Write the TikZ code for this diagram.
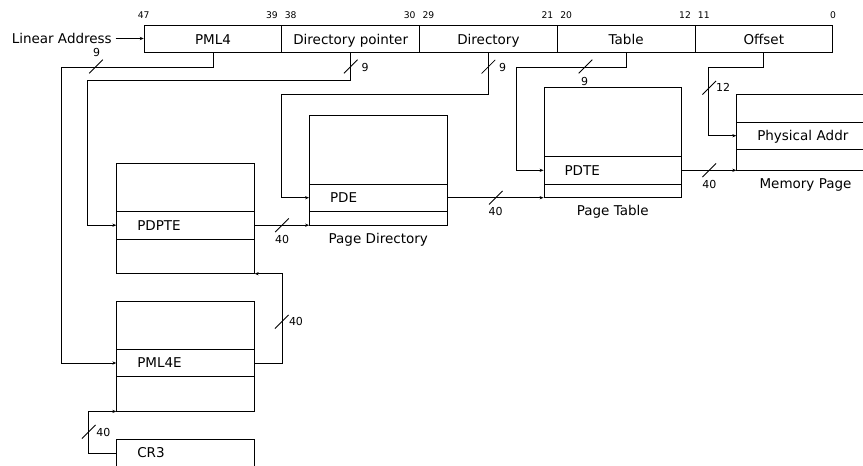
\documentclass[tikz,border=0pt]{standalone}
\usepackage{fontspec}
\setmainfont{DejaVu Sans}
\usetikzlibrary{arrows.meta,positioning}

\tikzset{
  field/.style={draw, minimum width=137.7pt, minimum height=27pt, inner sep=0pt,
    text height=11pt, text depth=0pt, font=\fontsize{13.5}{16}\selectfont},
  tbl/.style={draw, minimum width=137.5pt, minimum height=110pt, inner sep=0pt},
  entry/.style={draw, minimum width=137.5pt, minimum height=27.6pt, text width=96.5pt,
    inner xsep=20.5pt, inner ysep=0pt, align=left, text height=9.8pt, text depth=0pt,
    font=\fontsize{13.5}{16}\selectfont},
  txt/.style={font=\fontsize{13.5}{16}\selectfont},
  bit/.style={inner sep=0pt, font=\fontsize{9.2}{11}\selectfont},
  buslbl/.style={inner sep=0pt, font=\fontsize{11}{13}\selectfont},
  tip/.style={-{Stealth[length=4pt,width=3.2pt]}}
}

\begin{document}
\begin{tikzpicture}[x=1pt,y=-1pt,line width=0.8pt]
\clip (0,0) rectangle (863,466);

% linear address
\node[field] (pml4)   at (213.0,38.5) {PML4};
\node[field] (dirptr) at (350.7,38.5) {Directory pointer};
\node[field] (dir)    at (488.4,38.5) {Directory};
\node[field] (tab)    at (626.1,38.5) {Table};
\node[field] (off)    at (763.8,38.5) {Offset};
\node[txt, anchor=east] (lin) at (115.5,38.5) {Linear Address};
\draw[tip] (lin) -- (pml4);

% bit numbers
\node[bit,anchor=base]      at ([yshift=6.5pt]pml4.north west) {47};
\node[bit,anchor=base east] at ([xshift=-4pt,yshift=6.5pt]pml4.north east) {39};
\node[bit,anchor=base west] at ([xshift=3pt,yshift=6.5pt]dirptr.north west) {38};
\node[bit,anchor=base east] at ([xshift=-4pt,yshift=6.5pt]dirptr.north east) {30};
\node[bit,anchor=base west] at ([xshift=3pt,yshift=6.5pt]dir.north west) {29};
\node[bit,anchor=base east] at ([xshift=-4pt,yshift=6.5pt]dir.north east) {21};
\node[bit,anchor=base west] at ([xshift=3pt,yshift=6.5pt]tab.north west) {20};
\node[bit,anchor=base east] at ([xshift=-4pt,yshift=6.5pt]tab.north east) {12};
\node[bit,anchor=base west] at ([xshift=3pt,yshift=6.5pt]off.north west) {11};
\node[bit,anchor=base]      at ([yshift=6.5pt]off.north east) {0};

% tables
\node[tbl] (pdptbl) at (185.5,218.3) {};
\node[entry] (pdpte) at (185.5,225.2) {PDPTE};
\node[tbl] (pml4tbl) at (185.5,356) {};
\node[entry] (pml4e) at (185.5,363) {PML4E};
\node[entry] (cr3) at (185.5,453) {CR3};

\node[tbl] (pdtbl) at (378.25,170) {};
\node[entry] (pde) at (378.25,197.7) {PDE};
\node[txt, below=4pt of pdtbl] (pdlbl) {Page Directory};

\node[tbl] (pttbl) at (612.75,142.5) {};
\node[entry] (pte) at (612.75,170.3) {PDTE};
\node[txt, below=4pt of pttbl] (ptlbl) {Page Table};

\node[tbl, minimum height=75.7pt] (memtbl) at (805.5,132.2) {};
\node[entry] (phys) at (805.5,135.7) {Physical Addr};
\node[txt, below=4pt of memtbl] (memlbl) {Memory Page};

% index lines
\draw[tip] (pml4.south) -- ++(0,14.5) -| ([xshift=-55pt]pml4e.west) -- (pml4e.west);
\draw[tip] (dirptr.south) -- ++(0,28.3) -| ([xshift=-28.7pt]pdpte.west) -- (pdpte.west);
\draw[tip] (dir.south) -- ++(0,42.3) -| ([xshift=-27.5pt]pde.west) -- (pde.west);
\draw[tip] (tab.south) -- ++(0,14.5) -| ([xshift=-27.5pt]pte.west) -- (pte.west);
\draw[tip] (off.south) -- ++(0,14.5) -| ([xshift=-27.5pt]phys.west) -- (phys.west);

% base lines
\draw[tip] (pdpte.east) -- (pdpte.east -| pdtbl.west);
\draw[tip] (pde.east) -- (pde.east -| pttbl.west);
\draw[tip] (pte.east) -- (pte.east -| memtbl.west);
\draw[tip] (pml4e.east) -- ++(27.5,0) |- (pdptbl.south east);
\draw[tip] (cr3.west) -- ++(-28,0) |- (pml4tbl.south west);

% bus widths
\draw (96,66.5) +(-6.8,6.8) -- +(6.8,-6.8);
\node[buslbl] at (96.5,52.8) {9};
\draw (350.7,66.5) +(-6.8,6.8) -- +(6.8,-6.8);
\node[buslbl] at (365,67) {9};
\draw (488.4,66.7) +(-6.8,6.8) -- +(6.8,-6.8);
\node[buslbl] at (502.5,67) {9};
\draw (585.5,66.5) +(-6.8,6.8) -- +(6.8,-6.8);
\node[buslbl] at (584.5,81.2) {9};
\draw (709.25,87.7) +(-6.8,6.8) -- +(6.8,-6.8);
\node[buslbl] at (723,87.5) {12};
\draw (282,225.2) +(-6.8,6.8) -- +(6.8,-6.8);
\node[buslbl] at (282,239.2) {40};
\draw (495.8,197.7) +(-6.8,6.8) -- +(6.8,-6.8);
\node[buslbl] at (495.7,211.8) {40};
\draw (709.2,170.3) +(-6.8,6.8) -- +(6.8,-6.8);
\node[buslbl] at (709.3,184) {40};
\draw (281.75,321.8) +(-6.8,6.8) -- +(6.8,-6.8);
\node[buslbl] at (296,321.8) {40};
\draw (88.75,431.8) +(-6.8,6.8) -- +(6.8,-6.8);
\node[buslbl] at (103.3,432) {40};

\end{tikzpicture}
\end{document}
